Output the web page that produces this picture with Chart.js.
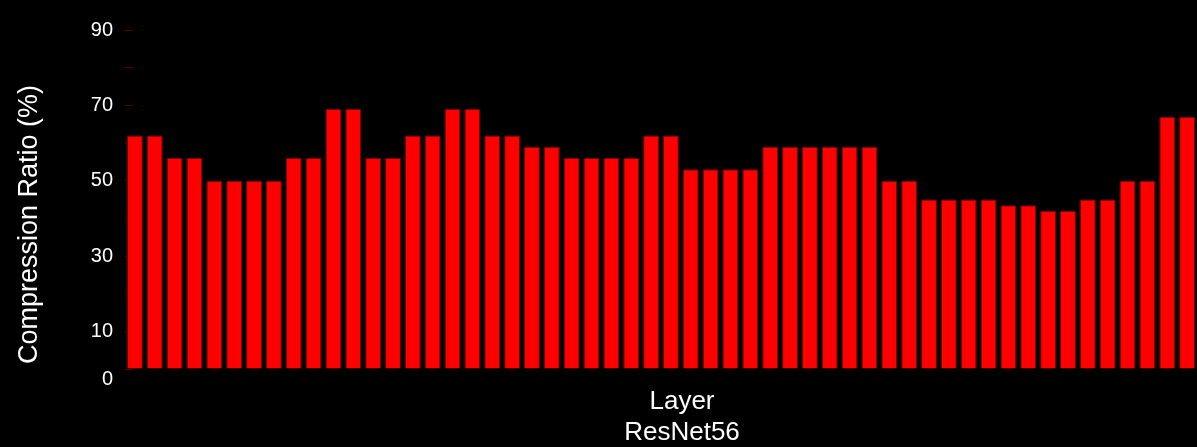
<!DOCTYPE html>
<html>
<head>
<meta charset="utf-8">
<script src="https://cdn.jsdelivr.net/npm/chart.js@4"></script>
<style>
  html, body { margin: 0; padding: 0; background: #000; overflow: hidden; }
  #wrap { width: 1197px; height: 447px; }
</style>
</head>
<body>
<div id="wrap"><canvas id="myChart"></canvas></div>
<script>
// compression ratio per layer (%)
const ratios = [
  62, 62, 56, 56, 50, 50, 50, 50, 56, 56,
  69, 69, 56, 56, 62, 62, 69, 69, 62, 62,
  59, 59, 56, 56, 56, 56, 62, 62, 53, 53,
  53, 53, 59, 59, 59, 59, 59, 59, 50, 50,
  45, 45, 45, 45, 43.5, 43.5, 42, 42, 45, 45,
  50, 50, 67, 67
];
const layers = ratios.map((_, i) => i + 1);
const yTickLabels = [0, 10, 30, 50, 70, 90];
const xTitle = ["Layer", "ResNet56"];
const yTitle = "Compression Ratio (%)";

const FONT = 'Arial, "Liberation Sans", sans-serif';

// axis titles, placed relative to the chart area
const axisTitles = {
  id: "axisTitles",
  afterDraw(chart) {
    const { ctx, chartArea } = chart;
    ctx.save();
    ctx.fillStyle = "#fff";
    ctx.textAlign = "center";
    ctx.textBaseline = "alphabetic";
    ctx.font = "26px " + FONT;
    const cx = (chartArea.left + chartArea.right) / 2 + 21;
    ctx.fillText(xTitle[0], cx, chartArea.bottom + 40);
    ctx.fillText(xTitle[1], cx, chartArea.bottom + 71);

    ctx.font = "27px " + FONT;
    ctx.translate(37, (chartArea.top + chartArea.bottom) / 2 + 25);
    ctx.rotate(-Math.PI / 2);
    ctx.fillText(yTitle, 0, 0);
    ctx.restore();
  }
};

const data = {
  labels: layers,
  datasets: [
    {
      data: ratios,
      backgroundColor: "#ff0000",
      borderColor: "#7a0000",
      borderWidth: 1,
      barPercentage: 0.8,
      categoryPercentage: 1.0,
    },
  ],
};

const options = {
  responsive: true,
  maintainAspectRatio: false,
  animation: false,
  layout: { padding: { top: 19, left: 0, right: 0, bottom: 0 } },
  plugins: {
    legend: { display: false },
    tooltip: { enabled: false },
  },
  scales: {
    x: {
      z: 1,
      offset: true,
      border: { display: false },
      grid: {
        offset: false,
        drawOnChartArea: false,
        drawTicks: true,
        tickLength: -10,
        lineWidth: 1,
        color: (c) => (c.index % 2 === 0 ? "#5a0000" : "rgba(0,0,0,0)"),
      },
      ticks: { display: false },
      afterFit(s) { s.height = 78; },
    },
    y: {
      z: 1,
      min: 0,
      max: 90,
      border: { display: false },
      grid: {
        drawOnChartArea: false,
        drawTicks: true,
        tickLength: -8,
        color: "#5a0000",
      },
      ticks: {
        stepSize: 10,
        autoSkip: false,
        padding: 20,
        color: "#fff",
        font: { family: FONT, size: 20, lineHeight: 1.0 },
        callback: (v) => {
          if (!yTickLabels.includes(v)) return "";
          return v === 0 ? ["", "0"] : String(v);
        },
      },
      afterFit(s) { s.width = 125; },
    },
  },
};

const config = {
  type: "bar",
  data: data,
  options,
  plugins: [axisTitles],
};

const myChart = new Chart(document.getElementById("myChart"), config);
</script>
</body>
</html>
